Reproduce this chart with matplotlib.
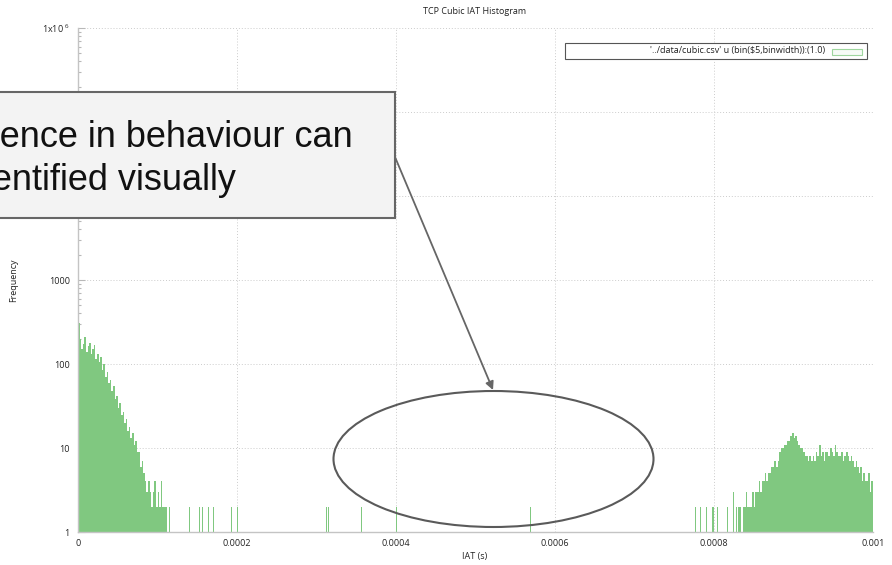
import numpy as np
import matplotlib
matplotlib.use("Agg")
import matplotlib.pyplot as plt
from matplotlib.patches import Rectangle, Ellipse, FancyArrowPatch
from matplotlib.ticker import LogLocator, FixedLocator, FixedFormatter, NullFormatter

# histogram data (bin width 2 us)
binwidth = 2e-6

# counts for the bins starting at IAT = 0
left_counts = [310, 200, 150, 175, 210, 140, 165, 180, 130, 150,
               170, 115, 130, 105, 120, 85, 100, 70, 80, 60,
               65, 48, 55, 38, 42, 30, 34, 25, 27, 20,
               22, 16, 18, 13, 15, 11, 12, 9, 9, 6,
               7, 5, 4, 3, 4, 3, 2, 3, 4, 2,
               3, 2, 4, 2, 2, 2, 0, 2]

# counts for the bins starting at right_start
right_start = 0.000836
right_counts = [2, 2, 3, 2, 2, 2, 3, 2, 3, 3,
                4, 3, 4, 4, 5, 4, 5, 5, 6, 6,
                7, 6, 7, 9, 10, 10, 11, 11, 12, 12,
                14, 15, 13, 14, 12, 11, 10, 10, 9, 8,
                8, 7, 8, 7, 8, 7, 9, 8, 11, 8,
                9, 7, 9, 9, 8, 10, 9, 8, 11, 9,
                8, 8, 9, 7, 8, 9, 8, 7, 8, 7,
                6, 7, 6, 5, 6, 4, 5, 4, 4, 5,
                3, 4]

# isolated bins
sparse_iat = [0.000140, 0.000152, 0.000156, 0.000164, 0.000170, 0.000192,
              0.000200, 0.000312, 0.000314, 0.000356, 0.000400, 0.000568,
              0.000776, 0.000782, 0.000790, 0.000798, 0.000804, 0.000816,
              0.000824, 0.000828, 0.000830, 0.000832]
sparse_counts = [2, 2, 2, 2, 2, 2,
                 2, 2, 2, 2, 2, 2,
                 2, 2, 2, 2, 2, 2,
                 3, 2, 2, 2]

xticks = [0, 0.0002, 0.0004, 0.0006, 0.0008, 0.001]
xticklabels = ["0", "0.0002", "0.0004", "0.0006", "0.0008", "0.001"]
yticks = [1, 10, 100, 1000, 1e4, 1e5, 1e6]
yticklabels = ["1", "10", "100", "1000", "10000", "100000", r"$\mathregular{1x10^{\ 6}}$"]

legend_text = "'../data/cubic.csv' u (bin($5,binwidth)):(1.0)"
note_lines = ["Difference in behaviour can", "be identified visually"]

W, H = 892, 565
plt.rcParams['font.family'] = ['Open Sans', 'DejaVu Sans']
fig = plt.figure(figsize=(W / 100, H / 100), dpi=100)

# axes box in pixels: left 78, right 873, top 28, bottom 532
ax = fig.add_axes([78 / W, 1 - 532 / H, (873 - 78) / W, (532 - 28) / H])

green = '#80c880'
x_left = np.arange(len(left_counts)) * binwidth
x_right = right_start + np.arange(len(right_counts)) * binwidth
ax.bar(x_left, left_counts, width=binwidth, align='edge', color=green, linewidth=0)
ax.bar(x_right, right_counts, width=binwidth, align='edge', color=green, linewidth=0)
ax.bar(sparse_iat, sparse_counts, width=binwidth * 0.7, align='edge', color=green, linewidth=0)

ax.set_yscale('log')
ax.set_xlim(0, 0.001)
ax.set_ylim(1, 1e6)

ax.xaxis.set_major_locator(FixedLocator(xticks))
ax.set_xticklabels(xticklabels)
ax.yaxis.set_major_locator(FixedLocator(yticks))
ax.yaxis.set_major_formatter(FixedFormatter(yticklabels))
ax.yaxis.set_minor_locator(LogLocator(base=10, subs=np.arange(2, 10)))
ax.yaxis.set_minor_formatter(NullFormatter())

ax.tick_params(axis='both', which='both', direction='in', colors='#b8b8b8',
               labelcolor='#222222', labelsize=6.5, width=0.8)
ax.tick_params(axis='y', which='major', length=5, pad=6)
ax.tick_params(axis='y', which='minor', length=2.5)
ax.tick_params(axis='x', which='major', length=0, pad=5)

for side in ['top', 'right']:
    ax.spines[side].set_visible(False)
for side in ['left', 'bottom']:
    ax.spines[side].set_color('#c4c4c4')
    ax.spines[side].set_linewidth(1.0)

ax.grid(True, which='major', color='#cccccc', linestyle=(0, (1, 2)), linewidth=0.7)
ax.set_axisbelow(True)

def fpos(x, y):
    return (x / W, 1 - y / H)

fig.text(*fpos(475, 11), "TCP Cubic IAT Histogram", ha='center', va='center',
         fontsize=6.5, color='#222222')
fig.text(*fpos(475, 556), "IAT (s)", ha='center', va='center', fontsize=6.5, color='#222222')
fig.text(*fpos(14, 280), "Frequency", ha='center', va='center', rotation=90,
         fontsize=6.5, color='#222222')

# key box
fig.patches.append(Rectangle(fpos(565, 59), 302 / W, 16 / H, transform=fig.transFigure,
                             facecolor='white', edgecolor='#555555', linewidth=0.8, zorder=5))
fig.text(*fpos(825, 51), legend_text, ha='right', va='center', fontsize=6.5,
         color='#222222', zorder=6)
fig.patches.append(Rectangle(fpos(832, 54.5), 30 / W, 5 / H, transform=fig.transFigure,
                             facecolor='#f6fbf6', edgecolor='#9ed69e', linewidth=0.8, zorder=6))

# annotation callout box
fig.patches.append(Rectangle(fpos(-20, 218), 415 / W, 126 / H, transform=fig.transFigure,
                             facecolor='#f3f3f3', edgecolor='#666666', linewidth=1.5, zorder=10))
fig.text(*fpos(-86, 147), note_lines[0], ha='left', va='baseline', fontsize=26,
         family='Liberation Sans', color='#111111', zorder=11)
fig.text(*fpos(-86, 190), note_lines[1], ha='left', va='baseline', fontsize=26,
         family='Liberation Sans', color='#111111', zorder=11)

fig.patches.append(Ellipse(fpos(493.5, 459), 320 / W, 136 / H, transform=fig.transFigure,
                           facecolor='none', edgecolor='#5a5a5a', linewidth=1.5, zorder=10))
fig.patches.append(FancyArrowPatch(fpos(395, 157), fpos(493, 390), transform=fig.transFigure,
                                   arrowstyle='-|>', mutation_scale=12, color='#666666',
                                   linewidth=1.3, shrinkA=0, shrinkB=0, zorder=10))

fig.savefig('out.png', dpi=100)
